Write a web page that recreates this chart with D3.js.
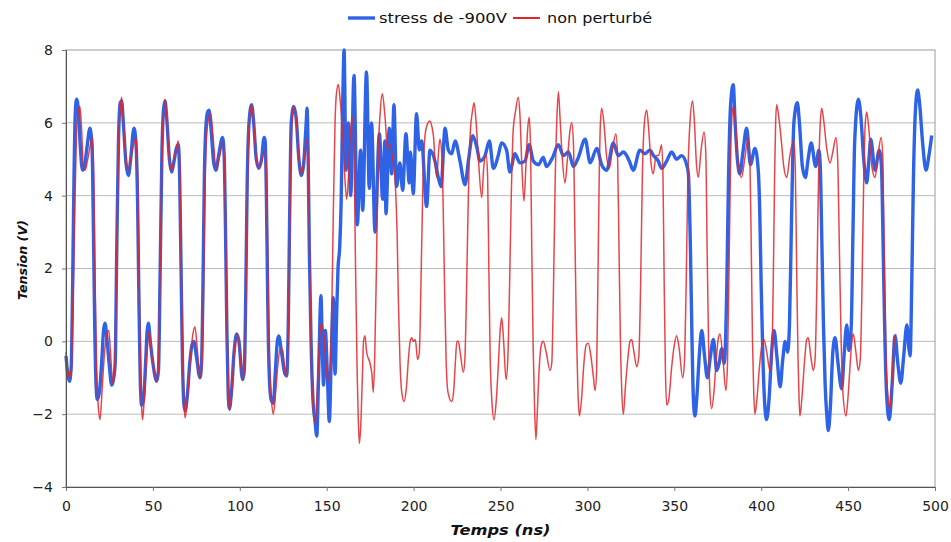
<!DOCTYPE html>
<html>
<head>
<meta charset="utf-8">
<script src="https://cdn.jsdelivr.net/npm/d3@7"></script>
<style>
  body { margin: 0; background: #fff; }
  svg { display: block; font-family: "DejaVu Sans", Verdana, sans-serif; }
  .grid line { stroke: #bbbbbb; stroke-width: 1; }
  .axis text { font-size: 14px; fill: #222; }
  .title { font-weight: bold; font-style: italic; fill: #111; }
</style>
</head>
<body>
<svg id="chart" width="951" height="542"></svg>
<script>
// legend labels
var seriesNames = ["stress de -900V", "non perturbé"];
var xTicks = [0, 50, 100, 150, 200, 250, 300, 350, 400, 450, 500];
var yTicks = [-4, -2, 0, 2, 4, 6, 8];

// [time ns, tension V] — stressed output
var stress = [
  [0,-0.4],[1,-0.9],[2,-1.1],[3,-0.7],[3.8,1.5],[4.6,4.5],[5.3,6.2],[6.1,6.65],[7.2,6.3],[8.3,5.3],
  [9.5,4.7],[10.5,4.75],[12,5.3],[13.8,5.85],[15,5.3],[15.8,3.0],[16.5,0.5],[17.3,-1.2],[18,-1.6],[19.2,-1.4],
  [20.5,-0.6],[21.6,0.3],[22.4,0.5],[23.5,0.1],[24.8,-0.6],[26.3,-1.2],[27.5,-1.0],[28.3,-0.6],[29.2,2.5],[30.2,5.5],
  [31.2,6.55],[32,6.6],[33,6.0],[34.5,4.9],[35.9,4.55],[37.2,5.0],[39.1,5.85],[40.2,5.5],[41.2,3.8],[42,1.0],
  [42.7,-1.0],[43.5,-1.75],[44.6,-1.6],[45.8,-0.6],[46.7,0.3],[47.4,0.5],[48.5,0.0],[50,-0.6],[52.2,-1.1],[53.2,-0.8],
  [54.2,2.0],[55.2,5.2],[56.2,6.4],[57,6.6],[58,6.1],[59.5,5.0],[60.8,4.65],[62,4.9],[63.5,5.3],[64.6,5.4],
  [65.4,4.5],[66.2,2.0],[67,-0.5],[67.8,-1.7],[68.5,-1.9],[69.8,-1.5],[71.2,-0.6],[72.5,-0.1],[73.6,0.0],[75,-0.4],
  [77.1,-1.0],[78,-0.6],[78.8,1.5],[79.6,4.5],[80.5,5.9],[81.5,6.3],[82.3,6.35],[83.5,5.8],[85,4.9],[86.3,4.7],
  [87.8,5.1],[90.1,5.6],[91,5.1],[91.8,3.0],[92.6,0.2],[93.3,-1.4],[94,-1.85],[95.2,-1.4],[96.7,-0.3],[98.2,0.2],
  [99.5,0.0],[101.6,-1.05],[102.6,-0.8],[103.4,1.2],[104.2,4.2],[105.3,6.0],[106.8,6.5],[108,6.0],[109.5,5.0],[111,4.75],
  [112.5,5.0],[114,5.6],[114.6,5.5],[115.3,4.0],[116.1,1.0],[117,-1.0],[118,-1.6],[119.3,-1.7],[120.5,-0.8],[121.6,0.0],
  [122.4,0.15],[124,-0.3],[126,-0.9],[127,-0.95],[127.9,0.5],[128.7,3.5],[129.6,6.0],[131.1,6.45],[132.5,6.1],[134,5.0],
  [135.5,4.55],[136.8,4.9],[138.2,6.0],[138.7,6.4],[139.3,5.2],[140,2.5],[141,0.0],[142,-1.5],[143.3,-2.2],[144.3,-2.6],
  [145.3,-1.0],[146.7,1.25],[147.5,-0.2],[148.2,-1.2],[149.2,0.3],[150.3,-0.8],[151.5,-2.2],[152.6,-0.5],[153.8,1.2],[154.8,-0.9],
  [155.6,0.5],[156.5,2.0],[157.5,2.6],[158.3,3.8],[159.2,6.5],[160,8.0],[161.1,4.7],[162.4,6.0],[163.8,4.0],[165.7,7.3],
  [167.6,3.2],[169.5,5.25],[170.7,3.6],[172.9,7.4],[174.5,4.2],[175.8,6.0],[177.8,3.0],[180.3,5.7],[182.2,3.9],[183.5,5.5],
  [184.1,3.5],[186,5.85],[187.4,4.6],[188.7,6.5],[190.2,4.25],[192.1,4.9],[193.7,4.15],[195.6,5.7],[197.5,4.35],[198.2,5.2],
  [199.8,4.05],[201.7,6.25],[203.3,5.25],[204.6,5.5],[207.5,3.7],[209.4,5.25],[212.3,4.95],[214.2,4.5],[215.8,4.25],[218.1,5.85],
  [220,5.25],[221.9,5.15],[223.9,5.5],[226.7,4.95],[229.6,4.3],[231.5,4.95],[234,5.65],[236.3,5.35],[238.2,4.95],[241.1,5.1],
  [243.6,5.5],[245.9,4.75],[248.7,5.1],[250.6,5.45],[253.5,5.25],[255.4,4.65],[258.3,5.15],[261.2,4.9],[264.1,4.95],[266.5,5.4],
  [268.9,4.95],[271.8,4.85],[274.6,5.05],[276.5,4.8],[280,5.05],[283.3,5.4],[286.2,5.1],[289.1,5.2],[292,4.8],[294.8,5.05],
  [298.7,5.55],[301.6,4.9],[305.4,5.3],[308.2,4.85],[311.1,4.7],[314.9,5.45],[317.8,5.1],[320.7,5.2],[322.6,5.1],[324.1,4.95],
  [326.4,4.7],[330.2,5.25],[333.1,5.15],[336,5.25],[338,5.1],[340.8,4.95],[342.7,4.75],[345.6,4.95],[348.5,5.2],[351.3,5.0],
  [354.2,5.1],[357.1,4.85],[358.1,4.6],[359.3,2.5],[360.2,0.0],[361,-1.6],[361.9,-2.05],[363,-1.5],[364.5,-0.3],[365.8,0.3],
  [367.4,-0.4],[369,-1.0],[370.8,-0.4],[372.5,0.05],[374.4,-0.8],[375.8,-0.6],[377.3,-0.2],[378.8,-0.6],[380.2,1.5],[381.2,4.5],
  [382.4,6.5],[383.9,7.05],[385,6.0],[386.3,5.0],[387.7,4.6],[389.5,5.2],[391.6,5.85],[393.8,4.85],[396.4,5.3],[398.3,4.7],
  [399.2,3.5],[400,1.5],[401,-0.5],[402,-1.7],[403.1,-2.15],[404.5,-1.6],[406,-0.3],[407.4,0.3],[409,-0.4],[410.9,-1.25],
  [412.4,-0.5],[413.8,0.0],[415.2,-0.3],[416.3,0.5],[417.5,3.5],[418.8,6.0],[420.8,6.55],[422,6.0],[423.7,4.8],[425.4,4.5],
  [427,5.0],[428.8,5.45],[431.3,4.8],[433.2,5.25],[434,4.8],[434.8,3.0],[435.8,0.5],[436.8,-1.2],[437.7,-2.0],[438.6,-2.45],
  [439.8,-1.8],[441.2,-0.3],[442.5,0.1],[444.2,-0.6],[446.3,-1.3],[447.8,-0.3],[449.2,0.45],[450.4,-0.25],[451.8,0.4],[452.8,3.0],
  [453.8,5.5],[455.9,6.65],[457.3,6.2],[459,5.0],[460.7,4.35],[462,5.0],[463,5.55],[465.5,4.7],[467.9,5.25],[469.2,4.8],
  [470.2,2.5],[471.2,0.0],[472.2,-1.5],[473.7,-2.15],[475.2,-1.3],[477,0.15],[478.6,-0.6],[480.3,-1.15],[482,-0.4],[483.8,0.45],
  [485,-0.2],[485.7,-0.4],[486.6,1.5],[487.6,4.5],[488.7,6.3],[490,6.9],[491.2,6.5],[492.8,5.5],[494.8,4.7],[496.5,5.1],
  [498.1,5.65]
];

// [time ns, tension V] — undisturbed output
var nominal = [
  [0,-0.3],[1,-0.8],[2,-1.0],[3,-0.8],[4,1.0],[5,3.5],[6,5.6],[7,6.3],[8,6.45],[9,5.8],
  [10,4.8],[11,4.7],[12.5,5.0],[14,5.4],[15.3,5.6],[16,4.5],[16.8,1.5],[17.6,-0.8],[18.6,-1.8],[19.6,-2.15],
  [20.8,-1.3],[22.2,-0.3],[23.5,0.2],[24.6,0.3],[25.6,-0.3],[26.9,-1.15],[27.8,-0.9],[28.6,0.5],[29.5,3.5],[30.5,5.8],
  [31.5,6.5],[32,6.7],[33,6.0],[34.5,5.0],[35.9,4.7],[37.5,5.1],[39.5,5.5],[40.3,5.6],[41.2,4.5],[42.1,1.5],
  [42.9,-0.8],[43.6,-1.9],[44.1,-2.15],[45.2,-1.4],[46.5,-0.4],[47.8,0.3],[48.7,-0.1],[49.6,-0.45],[50.8,-0.8],[52.2,-1.1],
  [53.1,-0.8],[54,1.5],[55,4.5],[56,6.2],[57,6.65],[58.1,6.0],[59.6,4.9],[60.8,4.7],[62,5.0],[63.5,5.3],
  [64.6,5.5],[65.5,4.8],[66.3,2.0],[67.2,-0.5],[68,-1.8],[68.6,-2.1],[69.8,-1.6],[71.5,-0.5],[73,0.2],[74.2,0.4],
  [75.5,-0.2],[77.1,-1.0],[78.1,-0.7],[79,1.0],[79.8,3.8],[80.8,5.6],[82,6.1],[83.3,6.25],[84.5,5.7],[86.3,4.75],
  [88,5.0],[90.3,5.45],[91.2,4.9],[92,2.5],[92.8,0.0],[93.5,-1.4],[94.2,-1.9],[95.5,-1.3],[97,-0.2],[98.2,0.2],
  [99.5,-0.1],[101.6,-1.05],[102.8,-0.7],[103.6,1.5],[104.5,4.5],[105.6,6.1],[106.8,6.5],[108,6.0],[109.5,5.0],[111,4.75],
  [112.5,4.95],[114.5,5.25],[115.4,4.6],[116.2,1.8],[117,-0.4],[118.2,-1.6],[119.3,-2.0],[120.6,-1.4],[122,-0.6],[123.3,-0.2],
  [124.6,-0.25],[126,-0.8],[127,-0.95],[128,0.5],[128.9,3.5],[129.8,5.9],[131.1,6.45],[132.5,6.1],[134,5.0],[135.5,4.6],
  [137,5.0],[138.7,5.55],[139.6,4.5],[140.4,1.5],[141.2,-0.8],[142.3,-1.9],[143.3,-2.25],[144.5,-1.4],[145.8,0.0],[147,0.5],
  [148.3,0.2],[149.5,-0.6],[150.8,-1.1],[151.8,-0.8],[152.8,0.5],[153.8,3.5],[154.8,6.0],[155.6,6.8],[156.7,7.05],[157.8,6.6],
  [159,5.8],[160.3,4.6],[161.5,3.9],[162.5,4.5],[163.7,5.8],[165,6.15],[165.8,5.0],[166.6,2.0],[167.5,-0.8],[168.2,-2.2],
  [168.8,-2.8],[169.6,-2.3],[170.5,-1.0],[171.2,0.0],[172,0.15],[173,-0.3],[174.9,-0.6],[176,-0.9],[176.8,-1.4],[177.6,-0.5],
  [178.6,2.0],[179.6,5.0],[180.8,6.3],[182,6.8],[183.5,6.2],[185,5.3],[186.5,5.4],[188,5.0],[189.5,4.3],[190.5,3.0],
  [191.3,1.0],[192.2,-0.6],[193.2,-1.4],[194.5,-1.65],[195.8,-1.3],[197,-0.5],[198,0.0],[198.9,0.1],[199.8,0.0],[201,0.05],
  [202.3,-0.5],[203.3,-0.3],[204.2,1.5],[205.2,4.0],[206.3,5.5],[207.5,5.9],[209.4,6.05],[210.5,5.9],[211.5,5.6],[212.5,4.8],
  [213.4,4.5],[214.2,5.1],[215.1,5.55],[216,5.3],[216.9,4.0],[217.8,1.5],[218.7,-0.5],[219.8,-1.4],[221.9,-1.65],[223,-1.4],
  [224,-0.6],[224.9,0.0],[225.7,0.0],[226.8,-0.3],[228.6,-0.85],[229.5,-0.5],[230.5,1.5],[231.5,4.0],[232.7,5.8],[233.8,6.3],
  [234.8,6.55],[236,6.0],[237.3,5.0],[239.2,3.95],[240.4,4.8],[241.7,5.15],[242.6,4.5],[243.3,2.0],[244,-0.3],[245,-1.6],
  [246.3,-2.15],[247.6,-1.6],[248.8,-0.6],[249.8,0.3],[250.7,0.65],[251.8,0.0],[253.2,-1.05],[254.2,-0.5],[255.2,1.5],[256.2,4.0],
  [257.3,5.8],[258.6,6.3],[260.2,6.7],[261.2,6.2],[262.3,4.8],[263.5,3.85],[264.6,4.8],[265.6,5.8],[266.5,6.15],[267.3,5.3],
  [268,2.5],[268.8,-0.2],[269.6,-1.8],[270.4,-2.7],[271.3,-1.8],[272.3,-0.7],[273.5,-0.1],[274.6,0.0],[276.3,-0.3],[278.5,-0.8],
  [279.5,-0.6],[280.5,1.5],[281.5,4.5],[282.5,6.2],[283.3,6.85],[284.3,6.1],[285.6,5.0],[287.1,4.35],[288.5,5.0],[290,5.8],
  [291,6.0],[292,5.4],[292.8,3.0],[293.6,0.5],[294.5,-1.3],[295.4,-2.05],[296.6,-1.6],[298,-0.6],[299.3,-0.1],[300.5,-0.05],
  [302,-0.4],[303.5,-1.0],[304.4,-1.35],[305.3,-0.8],[306,1.5],[306.8,4.5],[307.5,6.0],[308.2,6.4],[309.5,6.0],[311,5.1],
  [312.6,4.75],[314.2,5.2],[316.4,5.7],[317.4,5.0],[318.2,2.5],[319,0.0],[319.8,-1.4],[320.7,-2.0],[321.8,-1.3],[323.2,-0.5],
  [324.5,0.0],[325.5,0.05],[326.8,-0.3],[328.4,-0.7],[329.6,-0.4],[330.6,1.5],[331.6,4.5],[332.8,6.0],[334.1,6.35],[335.3,5.8],
  [336.6,4.9],[337.9,4.6],[339.5,5.1],[341,5.1],[342.7,5.4],[343.5,4.5],[344.2,1.5],[344.9,-0.8],[345.6,-1.75],[346.8,-1.6],
  [348.5,-0.7],[350,-0.1],[351.3,0.15],[352.8,-0.2],[354.8,-1.0],[355.8,-0.6],[356.8,1.5],[357.8,4.5],[359,6.0],[360.5,6.6],
  [361.6,6.0],[362.7,4.9],[363.8,4.5],[365.3,5.2],[367.1,5.75],[368.1,5.2],[368.9,2.5],[369.7,0.0],[370.5,-1.4],[371.5,-1.85],
  [372.8,-1.4],[374.3,-0.4],[375.4,0.1],[376.3,0.2],[378,-0.5],[379.7,-1.35],[380.6,-0.6],[381.5,2.0],[382.4,5.0],[383.2,6.2],
  [383.9,6.45],[385,6.1],[386.5,5.0],[388.7,4.5],[390.5,5.0],[392.5,5.6],[393.5,5.0],[394.3,2.5],[395,0.0],[395.7,-1.4],
  [396.4,-2.0],[397.5,-1.6],[399,-0.7],[400.4,-0.1],[401.6,0.05],[403.2,-0.3],[405,-0.8],[406,-0.6],[406.9,1.5],[407.7,4.5],
  [408.3,6.0],[408.9,6.5],[410,6.2],[411.4,5.6],[413,4.8],[414.7,4.5],[416.5,5.1],[418.6,5.5],[419.6,4.8],[420.4,2.0],
  [421.2,-0.5],[421.8,-1.6],[422.3,-2.05],[423.5,-1.5],[425,-0.5],[426.2,0.05],[427.1,0.1],[428.5,-0.4],[430,-0.8],[431,-0.5],
  [432,1.5],[433,4.5],[434,6.0],[434.8,6.4],[436,6.05],[437.7,5.3],[439.6,4.9],[441.2,5.2],[443,5.6],[444,5.0],
  [445,2.5],[446,0.0],[447,-1.4],[448.8,-2.05],[450,-1.5],[451.5,-0.4],[452.4,0.1],[453,0.2],[454.5,-0.3],[455.9,-0.8],
  [457,-0.5],[458,1.5],[459,4.5],[459.9,6.0],[460.7,6.3],[462,5.8],[463.7,4.8],[465.5,4.5],[467.2,5.1],[469,5.6],
  [470,5.0],[470.9,2.0],[471.8,-0.5],[472.9,-1.5],[474.1,-1.85],[475.3,-1.0],[476.5,0.0],[477.6,0.2]
];

var colors = ["#2f63e6", "#e2262a"];

var svg = d3.select("#chart");
var margin = { top: 50, right: 16, bottom: 55, left: 66 };
var width = +svg.attr("width") - margin.left - margin.right;
var height = +svg.attr("height") - margin.top - margin.bottom;

var x = d3.scaleLinear().domain([0, 500]).range([0, width]);
var y = d3.scaleLinear().domain([-4, 8]).range([height, 0]);

var g = svg.append("g")
  .attr("transform", "translate(" + margin.left + "," + margin.top + ")");

// horizontal grid
g.append("g")
  .attr("class", "grid")
  .selectAll("line")
  .data(yTicks.filter(function (d) { return d > -4 && d < 8; }))
  .enter().append("line")
  .attr("x1", 0).attr("x2", width)
  .attr("y1", function (d) { return y(d); })
  .attr("y2", function (d) { return y(d); });

// frame
g.append("rect")
  .attr("width", width).attr("height", height)
  .attr("fill", "none").attr("stroke", "#9a9a9a");

var line = d3.line()
  .curve(d3.curveMonotoneX)
  .x(function (d) { return x(d[0]); })
  .y(function (d) { return y(d[1]); });

g.append("path")
  .datum(stress)
  .attr("fill", "none")
  .attr("stroke", colors[0])
  .attr("stroke-width", 3.4)
  .attr("stroke-linejoin", "round")
  .attr("d", line);

g.append("path")
  .datum(nominal)
  .attr("fill", "none")
  .attr("stroke", colors[1])
  .attr("stroke-opacity", 0.85)
  .attr("stroke-width", 1.5)
  .attr("stroke-linejoin", "round")
  .attr("d", line);

// axes
g.append("g")
  .attr("class", "axis")
  .attr("transform", "translate(0," + height + ")")
  .call(d3.axisBottom(x).tickValues(xTicks).tickSize(4).tickPadding(10));

g.append("g")
  .attr("class", "axis")
  .call(d3.axisLeft(y).tickValues(yTicks).tickSize(4).tickPadding(9));

g.selectAll(".axis .domain").attr("stroke", "#555");
g.selectAll(".axis .tick line").attr("stroke", "#777");
g.selectAll(".axis text").attr("font-family", "DejaVu Sans, sans-serif");

// axis titles
svg.append("text")
  .attr("class", "title")
  .attr("x", margin.left + width / 2)
  .attr("y", 535)
  .attr("text-anchor", "middle")
  .attr("font-size", 14)
  .attr("textLength", 100)
  .attr("lengthAdjust", "spacingAndGlyphs")
  .text("Temps (ns)");

svg.append("text")
  .attr("class", "title")
  .attr("transform", "translate(27,260) rotate(-90)")
  .attr("text-anchor", "middle")
  .attr("font-size", 13)
  .attr("textLength", 80)
  .attr("lengthAdjust", "spacingAndGlyphs")
  .text("Tension (V)");

// legend
var legendX = [348, 513];
var legendW = [128, 105];
var legend = svg.append("g").attr("transform", "translate(0,18)");
var items = legend.selectAll("g")
  .data(seriesNames)
  .enter().append("g")
  .attr("transform", function (d, i) { return "translate(" + legendX[i] + ",0)"; });

items.append("line")
  .attr("x1", 0).attr("x2", 27)
  .attr("stroke", function (d, i) { return colors[i]; })
  .attr("stroke-width", function (d, i) { return i === 0 ? 3.4 : 2; });

items.append("text")
  .attr("x", function (d, i) { return i === 0 ? 31 : 34; })
  .attr("dy", "0.35em")
  .attr("font-size", 14)
  .attr("fill", "#111")
  .attr("textLength", function (d, i) { return legendW[i]; })
  .attr("lengthAdjust", "spacingAndGlyphs")
  .text(function (d) { return d; });
</script>
</body>
</html>
